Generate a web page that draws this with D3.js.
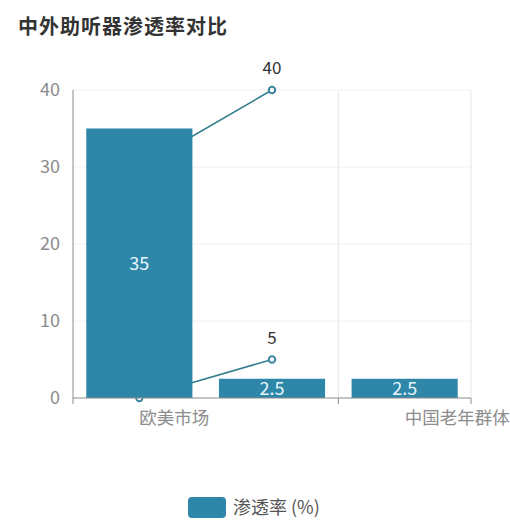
<!DOCTYPE html>
<html>
<head>
<meta charset="utf-8">
<script src="https://cdn.jsdelivr.net/npm/d3@7/dist/d3.min.js"></script>
<style>
  html, body { margin: 0; padding: 0; background: #fff; }
  svg { display: block; font-family: "Noto Sans CJK SC", "Noto Sans", sans-serif; }
</style>
</head>
<body>
<svg id="chart" width="510" height="532"></svg>
<script>
const title = "中外助听器渗透率对比";
const categories = ["欧美市场", "", "中国老年群体"];
const barValues = [35, 2.5, 2.5];
const lineA = [30, 40, null];
const lineB = [0, 5, null];
const yTicks = [0, 10, 20, 30, 40];
const legendLabel = "渗透率 (%)";

(function () {
const svg = d3.select("#chart");
const gLeft = 73, gRight = 471, gTop = 90, gBottom = 398;

const x = d3.scaleBand().domain(d3.range(categories.length)).range([gLeft, gRight])
  .paddingInner(0.2).paddingOuter(0.1);
const step = x.step();
const center = i => x(i) + x.bandwidth() / 2;
const y = d3.scaleLinear().domain([0, 40]).range([gBottom, gTop]);

// title
svg.append("text").attr("x", 18).attr("y", 34)
  .attr("font-size", 20).attr("font-weight", "bold").attr("fill", "#333")
  .attr("textLength", 209).attr("lengthAdjust", "spacing")
  .text(title);

// horizontal grid
svg.append("g").selectAll("line").data(yTicks.filter(d => d > 0)).join("line")
  .attr("x1", gLeft).attr("x2", gRight)
  .attr("y1", d => y(d)).attr("y2", d => y(d))
  .attr("stroke", "#f0f0f0").attr("stroke-width", 1);

// vertical grid at shown-label boundaries
const boundaries = [2, 3].map(i => gLeft + i * step);
svg.append("g").selectAll("line").data(boundaries).join("line")
  .attr("x1", d => d).attr("x2", d => d)
  .attr("y1", gTop).attr("y2", gBottom)
  .attr("stroke", "#e6e6e6").attr("stroke-width", 1);

// y axis
svg.append("line").attr("x1", gLeft).attr("x2", gLeft).attr("y1", gTop).attr("y2", gBottom)
  .attr("stroke", "#8a8a8a").attr("stroke-width", 1);
svg.append("g").selectAll("text").data(yTicks).join("text")
  .attr("x", 60).attr("y", d => y(d)).attr("dy", "0.35em")
  .attr("text-anchor", "end").attr("font-size", 18).attr("fill", "#8c8c8c")
  .text(d => d);

// lines (under bars)
const lineGen = d3.line().defined(d => d.v !== null).x(d => center(d.i)).y(d => y(d.v));
const lineColor = "#2f7c8c";
[lineA, lineB].forEach(series => {
  const pts = series.map((v, i) => ({ i, v }));
  svg.append("path").datum(pts).attr("d", lineGen)
    .attr("fill", "none").attr("stroke", lineColor).attr("stroke-width", 1.5);
  const valid = pts.filter(d => d.v !== null);
  svg.append("g").selectAll("circle").data(valid).join("circle")
    .attr("cx", d => center(d.i)).attr("cy", d => y(d.v)).attr("r", 3.2)
    .attr("fill", "#fff").attr("stroke", "#3a86a0").attr("stroke-width", 2);
  svg.append("g").selectAll("text").data(valid.filter(d => d.i > 0)).join("text")
    .attr("x", d => center(d.i)).attr("y", d => y(d.v) - 16)
    .attr("text-anchor", "middle").attr("font-size", 17).attr("fill", "#333")
    .text(d => d.v);
});

// bars
const barColor = "#2e86a8";
svg.append("g").selectAll("rect").data(barValues).join("rect")
  .attr("x", (d, i) => x(i)).attr("width", x.bandwidth())
  .attr("y", d => y(d)).attr("height", d => gBottom - y(d))
  .attr("fill", barColor);
svg.append("g").selectAll("text").data(barValues).join("text")
  .attr("x", (d, i) => center(i)).attr("y", d => (y(d) + gBottom) / 2).attr("dy", "0.35em")
  .attr("text-anchor", "middle").attr("font-size", 18).attr("fill", "#e6f6fb")
  .text(d => d);

// x axis
svg.append("line").attr("x1", gLeft).attr("x2", gRight).attr("y1", gBottom).attr("y2", gBottom)
  .attr("stroke", "#8a8a8a").attr("stroke-width", 1);
const tickPos = [0, 2, 3].map(i => gLeft + i * step);
svg.append("g").selectAll("line").data(tickPos).join("line")
  .attr("x1", d => d).attr("x2", d => d).attr("y1", gBottom).attr("y2", gBottom + 6)
  .attr("stroke", "#8a8a8a");
svg.append("g").selectAll("text").data(categories.map((c, i) => ({ c, i })).filter(d => d.c)).join("text")
  .attr("x", d => center(d.i)).attr("y", gBottom + 20).attr("dy", "0.35em")
  .attr("text-anchor", "start").attr("font-size", 17.5).attr("fill", "#8c8c8c")
  .text(d => d.c);

// legend
svg.append("rect").attr("x", 188).attr("y", 497).attr("width", 38).attr("height", 21)
  .attr("rx", 4).attr("fill", barColor);
svg.append("text").attr("x", 233).attr("y", 507.5).attr("dy", "0.35em")
  .attr("font-size", 18).attr("fill", "#555").text(legendLabel);
})();
</script>
</body>
</html>
